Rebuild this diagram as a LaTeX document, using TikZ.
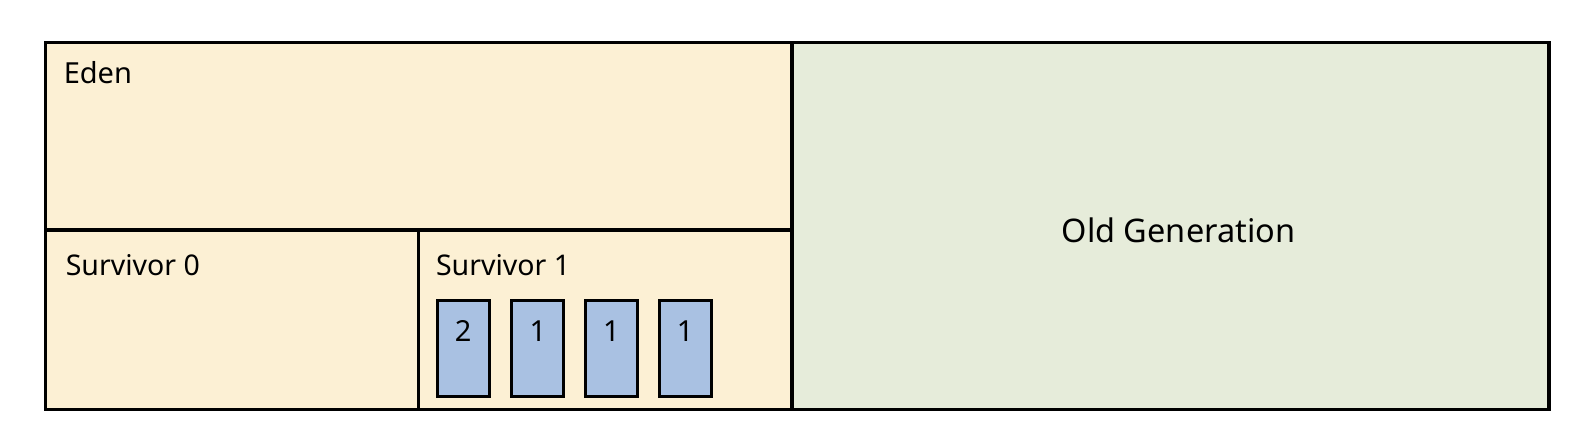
\documentclass[tikz,border=0pt]{standalone}
\usepackage{fontspec}
\setmainfont{Noto Sans}
\definecolor{young}{HTML}{FCF0D4}
\definecolor{oldg}{HTML}{E6ECDA}
\definecolor{obj}{HTML}{A9C1E2}
\begin{document}
\begin{tikzpicture}[x=1.009pt,y=-1.009pt,
  region/.style={draw=black,line width=3.2pt},
  objbox/.style={draw=black,fill=obj,line width=3.2pt,minimum width=52pt,minimum height=96pt,inner sep=0pt},
  lbl/.style={anchor=base west,inner sep=0pt,font=\fontsize{28.5}{32}\selectfont},
  num/.style={font=\fontsize{29}{32}\selectfont,inner sep=0pt,anchor=base}]
\useasboundingbox (0pt,0pt) rectangle (1582pt,-438pt);
\fill[white] (0pt,0pt) rectangle (1582pt,-438pt);
% regions
\draw[region,fill=young] (45,42) rectangle (785,228);
\draw[region,fill=young] (45,228) rectangle (415,406);
\draw[region,fill=young] (415,228) rectangle (785,406);
\draw[region,fill=oldg] (785,42) rectangle (1535,406);
\draw[line width=3.6pt] (45,42) rectangle (1535,406);
% labels
\node[lbl,font=\fontsize{29}{32}\selectfont] (eden) at (63,83) {Eden};
\node[lbl] (s0) at (65,273) {Survivor 0};
\node[lbl] (s1) at (432,273) {Survivor 1};
\node[anchor=base,inner sep=0pt,font=\fontsize{32.5}{36}\selectfont] (old) at (1168,240) {Old Generation};
% objects
\foreach \x/\n/\name in {459/2/a,533/1/b,606/1/c,679/1/d}{
  \node[objbox] (\name) at (\x,345) {};
  \node[num] at (\x,338) {\n};
}
\end{tikzpicture}
\end{document}
